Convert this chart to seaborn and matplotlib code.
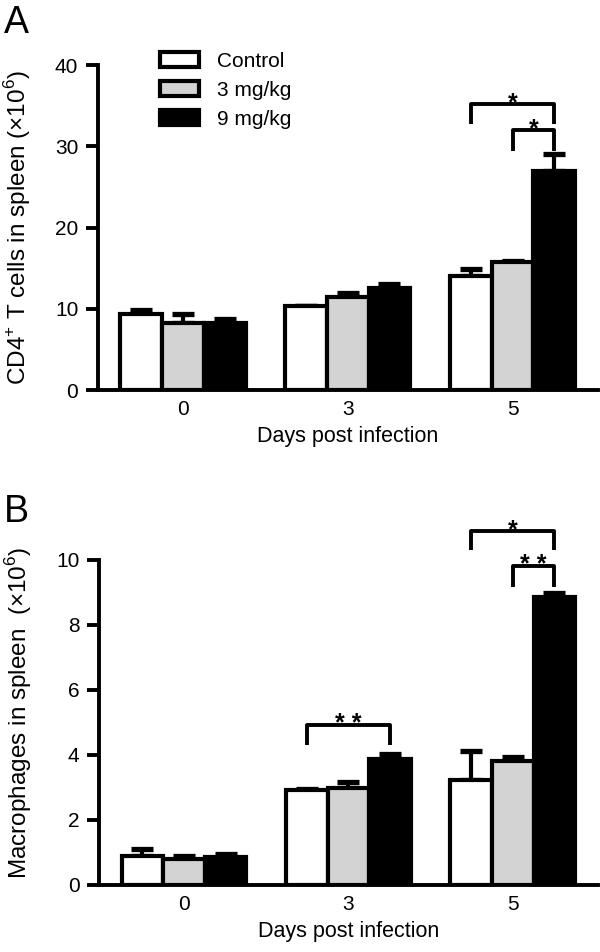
import numpy as np
import pandas as pd
import matplotlib
matplotlib.use('Agg')
import matplotlib.pyplot as plt
import seaborn as sns

# categories
days = ['0', '3', '5']
groups = ['Control', '3 mg/kg', '9 mg/kg']
colors = ['white', '#d3d3d3', 'black']

# panel A: CD4+ T cells (x10^6), mean and upper error
cd4_control = [9.4, 10.3, 14.0]
cd4_3mg = [8.3, 11.4, 15.7]
cd4_9mg = [8.3, 12.5, 26.9]
cd4_err_control = [0.4, 0.1, 0.9]
cd4_err_3mg = [1.0, 0.5, 0.2]
cd4_err_9mg = [0.5, 0.5, 2.2]

# panel B: macrophages (x10^6)
mac_control = [0.90, 2.92, 3.23]
mac_3mg = [0.80, 2.98, 3.81]
mac_9mg = [0.87, 3.88, 8.87]
mac_err_control = [0.20, 0.02, 0.89]
mac_err_3mg = [0.08, 0.20, 0.12]
mac_err_9mg = [0.08, 0.15, 0.12]

# significance brackets: (day index, bar from, bar to, top, leg end, label)
cd4_sig = [(2, 0, 2, 35.2, 32.7, '*'), (2, 1, 2, 32.0, 29.4, '*')]
mac_sig = [(1, 0, 2, 4.92, 4.31, '* *'), (2, 0, 2, 10.9, 10.3, '*'),
           (2, 1, 2, 9.82, 9.18, '* *')]


def long_df(vals):
    rows = []
    for g, v in zip(groups, vals):
        for d, y in zip(days, v):
            rows.append({'day': d, 'group': g, 'value': y})
    return pd.DataFrame(rows)


def draw_panel(ax, vals, errs, ylim, yticks, ylabel, label_y, sig, legend):
    df = long_df(vals)
    sns.barplot(data=df, x='day', y='value', hue='group', order=days,
                hue_order=groups, palette=dict(zip(groups, colors)),
                saturation=1, width=0.76, gap=0, edgecolor='black',
                linewidth=3, errorbar=None, legend=legend, ax=ax)
    bars = list(ax.containers)
    for i, cont in enumerate(bars):
        for j, bar in enumerate(cont):
            x = bar.get_x() + bar.get_width() / 2
            y = bar.get_height()
            ax.errorbar(x, y, yerr=[[0], [errs[i][j]]], fmt='none',
                        ecolor='black', elinewidth=3, capsize=8,
                        capthick=3.8, zorder=0.9)
    for d, b1, b2, top, leg, lab in sig:
        c1 = bars[b1][d]
        c2 = bars[b2][d]
        x1 = c1.get_x() + c1.get_width() / 2
        x2 = c2.get_x() + c2.get_width() / 2
        ax.plot([x1, x1, x2, x2], [leg, top, top, leg], color='black',
                lw=2.8, clip_on=False, solid_capstyle='butt')
        ax.annotate(lab, ((x1 + x2) / 2, top), xytext=(0, -4.5),
                    textcoords='offset points', ha='center', va='baseline',
                    fontsize=18, fontweight='bold', annotation_clip=False)
    ax.set_xlim(-0.517, 2.52)
    ax.set_ylim(*ylim)
    ax.set_yticks(yticks)
    sns.despine(ax=ax)
    for s in ['left', 'bottom']:
        ax.spines[s].set_linewidth(2.8)
    ax.tick_params(axis='y', length=9, width=2.8, pad=5, labelsize=15)
    ax.tick_params(axis='x', length=0, pad=7, labelsize=15)
    ax.set_xlabel('Days post infection', fontsize=15.5, labelpad=5)
    ax.set_ylabel(ylabel, fontsize=17.5)
    ax.yaxis.set_label_coords(-0.13, label_y)
    return bars


sns.set_theme(style='ticks', rc={'axes.edgecolor': 'black',
                                 'text.color': 'black',
                                 'axes.labelcolor': 'black',
                                 'xtick.color': 'black',
                                 'ytick.color': 'black'})
plt.rcParams['font.family'] = ['Liberation Sans', 'DejaVu Sans']
plt.rcParams['mathtext.fontset'] = 'custom'
plt.rcParams['mathtext.rm'] = 'Liberation Sans'

fig = plt.figure(figsize=(6, 9.52), dpi=100)
ax_a = fig.add_axes([0.163, 0.5903, 0.834, 0.3414])
ax_b = fig.add_axes([0.165, 0.0704, 0.832, 0.3414])

bars_a = draw_panel(ax_a, [cd4_control, cd4_3mg, cd4_9mg],
                    [cd4_err_control, cd4_err_3mg, cd4_err_9mg],
                    (0, 40), [0, 10, 20, 30, 40],
                    'CD4$^{+}$ T cells in spleen (\u00d710$^{6}$)', 0.5,
                    cd4_sig, True)
draw_panel(ax_b, [mac_control, mac_3mg, mac_9mg],
           [mac_err_control, mac_err_3mg, mac_err_9mg],
           (0, 10), [0, 2, 4, 6, 8, 10],
           'Macrophages in spleen  (\u00d710$^{6}$)', 0.53, mac_sig, False)

ax_a.legend(bars_a, groups, loc='upper left', bbox_to_anchor=(0.124, 1.04),
            frameon=False, borderpad=0, borderaxespad=0, handlelength=1.9,
            handleheight=0.75, handletextpad=0.85, labelspacing=0.47,
            fontsize=15)

fig.text(0.007, 1 - 33 / 952, 'A', fontsize=27, va='baseline')
fig.text(0.007, 1 - 522 / 952, 'B', fontsize=27, va='baseline')

fig.savefig('out.png', dpi=100)
